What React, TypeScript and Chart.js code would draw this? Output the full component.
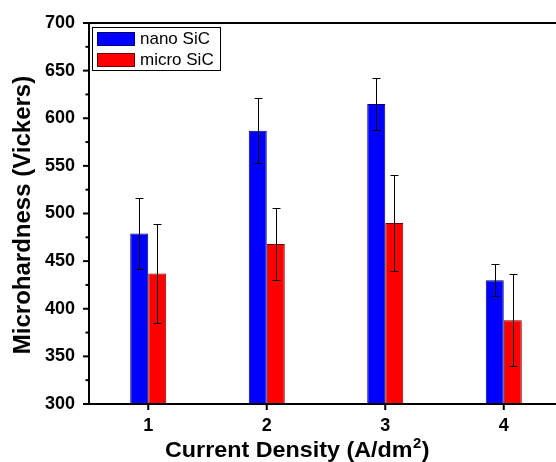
import React, { useEffect, useRef } from "react";
import { Chart, registerables } from "chart.js";

Chart.register(...registerables);

const categories = ["1", "2", "3", "4"];
const seriesNames = ["nano SiC", "micro SiC"];
const nanoValues = [479, 587, 615, 430];
const nanoErrors = [37, 34, 27, 17];
const microValues = [437, 468, 490, 388];
const microErrors = [52, 38, 50, 48];
const yMin = 300;
const yMax = 700;
const yStep = 25;
const yLabelStep = 50;

const FONT = "'Liberation Sans', Arial, Helvetica, sans-serif";
const fillColors = ["#0000ff", "#ff0000"];
const edgeColors = ["#000070", "#700000"];
const errorSets = [nanoErrors, microErrors];
const valueSets = [nanoValues, microValues];

const customPlugin = {
  id: "customDraw",
  afterDatasetsDraw(chart: any) {
    const ctx = chart.ctx;
    const y = chart.scales.y;
    ctx.save();
    ctx.strokeStyle = "#000";
    ctx.lineWidth = 1;
    chart.data.datasets.forEach((ds: any, i: number) => {
      const meta = chart.getDatasetMeta(i);
      const errs = errorSets[i];
      meta.data.forEach((bar: any, j: number) => {
        const v = ds.data[j];
        const e = errs[j];
        const x = Math.round(bar.x) + 0.5;
        const yt = Math.round(y.getPixelForValue(v + e)) + 0.5;
        const yb = Math.round(y.getPixelForValue(v - e)) + 0.5;
        ctx.beginPath();
        ctx.moveTo(x, yt);
        ctx.lineTo(x, yb);
        ctx.moveTo(x - 4, yt);
        ctx.lineTo(x + 4, yt);
        ctx.moveTo(x - 4, yb);
        ctx.lineTo(x + 4, yb);
        ctx.stroke();
      });
    });
    ctx.restore();
  },
  afterDraw(chart: any) {
    const ctx = chart.ctx;
    const { left, top, right, bottom } = chart.chartArea;
    const xS = chart.scales.x;
    const yS = chart.scales.y;
    ctx.save();
    // frame
    ctx.strokeStyle = "#000";
    ctx.lineWidth = 2;
    ctx.strokeRect(left, top, right - left, bottom - top);
    // y ticks
    yS.ticks.forEach((t: any) => {
      const py = yS.getPixelForValue(t.value);
      const major = t.value % yLabelStep === 0;
      ctx.beginPath();
      ctx.moveTo(left, py);
      ctx.lineTo(left - (major ? 6 : 3.5), py);
      ctx.stroke();
    });
    // x ticks
    categories.forEach((_c, i) => {
      const px = xS.getPixelForValue(i);
      ctx.beginPath();
      ctx.moveTo(px, bottom);
      ctx.lineTo(px, bottom + 6);
      ctx.stroke();
    });
    // legend
    ctx.lineWidth = 1;
    ctx.fillStyle = "#fff";
    ctx.fillRect(92.5, 27.5, 128, 43);
    ctx.strokeRect(92.5, 27.5, 128, 43);
    chart.data.datasets.forEach((ds: any, i: number) => {
      const sy = 32 + i * 21;
      ctx.fillStyle = fillColors[i];
      ctx.fillRect(97, sy, 38, 14);
      ctx.strokeStyle = edgeColors[i];
      ctx.strokeRect(97.5, sy + 0.5, 37, 13);
      ctx.fillStyle = "#000";
      ctx.font = `17px ${FONT}`;
      ctx.textAlign = "left";
      ctx.textBaseline = "middle";
      ctx.fillText(ds.label, 140, sy + 7);
    });
    // x title
    ctx.fillStyle = "#000";
    ctx.textBaseline = "alphabetic";
    ctx.textAlign = "left";
    ctx.save();
    ctx.translate(165, 457);
    ctx.scale(1.06, 1);
    ctx.font = `bold 22px ${FONT}`;
    const main = "Current Density (A/dm";
    ctx.fillText(main, 0, 0);
    let w = ctx.measureText(main).width;
    ctx.font = `bold 14px ${FONT}`;
    ctx.fillText("2", w + 0.5, -9);
    w += ctx.measureText("2").width + 1;
    ctx.font = `bold 22px ${FONT}`;
    ctx.fillText(")", w, 0);
    ctx.restore();
    // y title
    ctx.save();
    ctx.translate(23, 215);
    ctx.rotate(-Math.PI / 2);
    ctx.font = `bold 24px ${FONT}`;
    ctx.textAlign = "center";
    ctx.textBaseline = "middle";
    ctx.fillText("Microhardness (Vickers)", 0, 0);
    ctx.restore();
    ctx.restore();
  },
};

export default function App() {
  const ref = useRef<HTMLCanvasElement | null>(null);
  useEffect(() => {
    if (!ref.current) return;
    const chart = new Chart(ref.current, {
      type: "bar",
      data: {
        labels: categories,
        datasets: [
          {
            label: seriesNames[0],
            data: valueSets[0],
            backgroundColor: fillColors[0],
            borderColor: edgeColors[0],
            borderWidth: 1,
          },
          {
            label: seriesNames[1],
            data: valueSets[1],
            backgroundColor: fillColors[1],
            borderColor: edgeColors[1],
            borderWidth: 1,
          },
        ],
      },
      options: {
        responsive: false,
        animation: false,
        devicePixelRatio: 1,
        layout: { padding: { left: 0, top: 23, right: 17, bottom: 0 } },
        datasets: { bar: { categoryPercentage: 0.304, barPercentage: 1 } },
        plugins: { legend: { display: false }, tooltip: { enabled: false } },
        scales: {
          x: {
            type: "category",
            offset: true,
            grid: { display: true, drawOnChartArea: false, offset: false, tickLength: 6, tickColor: "rgba(0,0,0,0)" },
            border: { display: false },
            ticks: { color: "#000", padding: 5, font: { family: FONT, size: 18, weight: "bold" } },
            afterFit: (s: any) => {
              s.height = 58;
            },
          },
          y: {
            min: yMin,
            max: yMax,
            grid: { display: true, drawOnChartArea: false, tickLength: 6, tickColor: "rgba(0,0,0,0)" },
            border: { display: false },
            ticks: {
              stepSize: yStep,
              autoSkip: false,
              color: "#000",
              padding: 8,
              font: { family: FONT, size: 18, weight: "bold" },
              callback: (v: any) => (Number(v) % yLabelStep === 0 ? String(v) : ""),
            },
            afterFit: (s: any) => {
              s.width = 89;
            },
          },
        },
      } as any,
      plugins: [customPlugin],
    });
    return () => chart.destroy();
  }, []);
  return (
    <div style={{ position: "fixed", left: 0, top: 0, width: 556, height: 462, overflow: "hidden", background: "#fff" }}>
      <canvas ref={ref} width={580} height={462} style={{ display: "block", width: 580, height: 462 }} />
    </div>
  );
}
